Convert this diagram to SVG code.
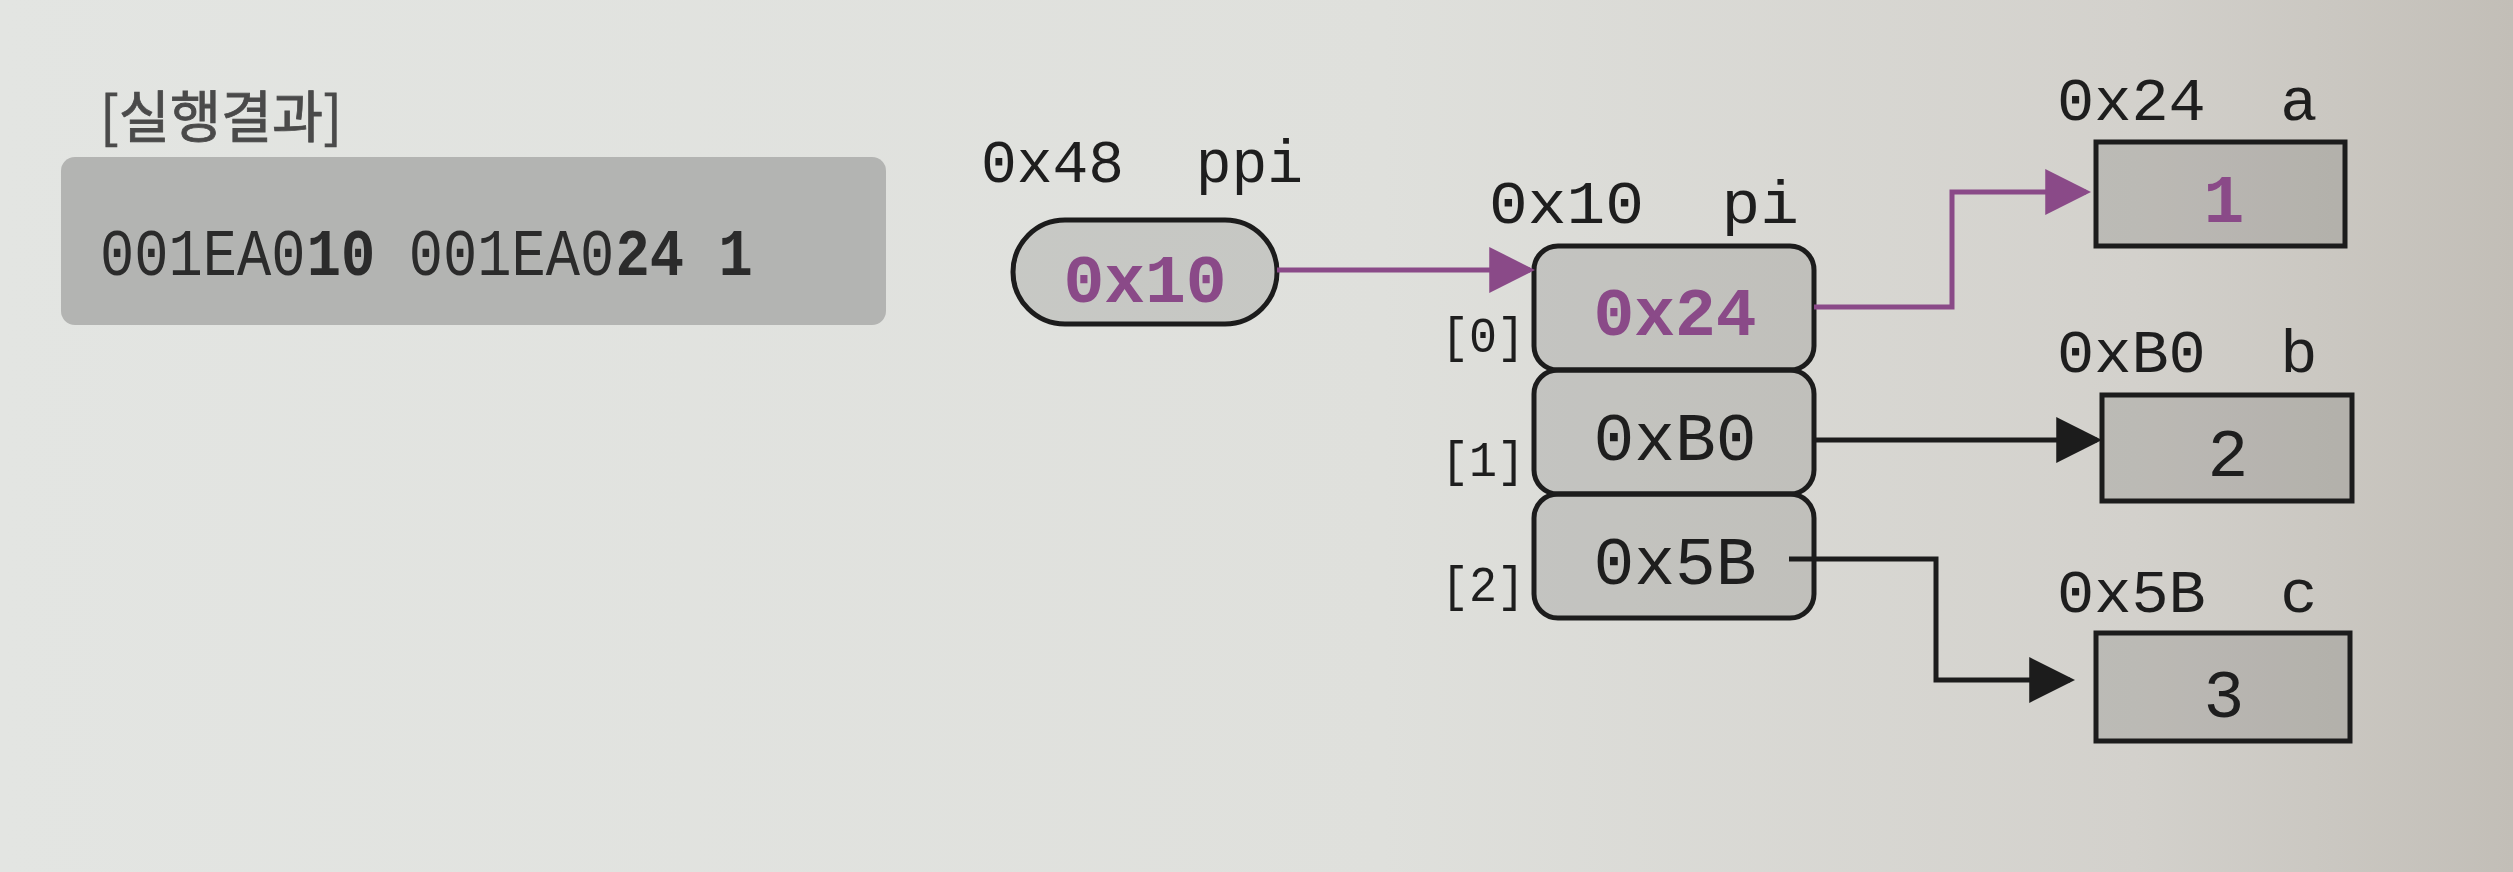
<svg xmlns="http://www.w3.org/2000/svg" width="2513" height="872" viewBox="0 0 2513 872">
<defs>
<linearGradient id="bg" x1="0" y1="0" x2="1" y2="0">
<stop offset="0" stop-color="#e3e5e2"/>
<stop offset="0.55" stop-color="#dfe0dc"/>
<stop offset="0.85" stop-color="#d3d1cc"/>
<stop offset="1" stop-color="#c2beb7"/>
</linearGradient>
<marker id="ahP" markerUnits="userSpaceOnUse" markerWidth="46" markerHeight="46" viewBox="0 0 44 44" refX="39" refY="22" orient="auto">
<path d="M0,0 L44,22 L0,44 Z" fill="#8a4a88"/>
</marker>
<marker id="ahK" markerUnits="userSpaceOnUse" markerWidth="46" markerHeight="46" viewBox="0 0 44 44" refX="39" refY="22" orient="auto">
<path d="M0,0 L44,22 L0,44 Z" fill="#1c1c1c"/>
</marker>
<style>
.mono{font-family:"Liberation Mono","DejaVu Sans Mono",monospace;fill:#1e1e1e}
.out{font-size:66px;fill:#2b2b2b}
.b{font-weight:bold}
.lbl{font-size:62px}
.val{font-size:68px;text-anchor:middle}
.idx{font-size:50px}
.hl{fill:#8a4a88;font-weight:bold}
.box{fill:#000;fill-opacity:0.11;stroke:#1c1c1c;stroke-width:5}
.conn{fill:none;stroke-width:5}
.p{stroke:#8a4a88;marker-end:url(#ahP)}
.k{stroke:#1c1c1c;marker-end:url(#ahK)}
</style>
</defs>
<rect width="2513" height="872" fill="url(#bg)"/>

<g id="result">
<text x="100" y="137" font-family="'Noto Sans CJK KR',sans-serif" font-size="56" fill="#4a4a4a" stroke="#4a4a4a" stroke-width="0.8" textLength="242" lengthAdjust="spacingAndGlyphs">[실행결과]</text>
<rect x="61" y="157" width="825" height="168" rx="14" fill="#b3b4b2"/>
<g transform="translate(100,275) scale(0.865,1)">
<text x="0" y="0" class="mono out">001EA0</text>
<text x="239" y="0" class="mono out b">10</text>
<text x="357" y="0" class="mono out">001EA0</text>
<text x="596" y="0" class="mono out b">24</text>
<text x="715" y="0" class="mono out b">1</text>
</g>
</g>

<g id="ppi">
<text x="981" y="182" class="mono lbl" textLength="322" lengthAdjust="spacingAndGlyphs" xml:space="preserve">0x48  ppi</text>
<rect x="1013" y="220" width="264" height="104" rx="52" class="box"/>
<text x="1145" y="302" class="mono val hl" font-size="66">0x10</text>
</g>

<g id="pi">
<text x="1489" y="223" class="mono lbl" textLength="310" lengthAdjust="spacingAndGlyphs" xml:space="preserve">0x10  pi</text>
<rect x="1534" y="246" width="280" height="124" rx="24" class="box"/>
<rect x="1534" y="370" width="280" height="124" rx="24" class="box"/>
<rect x="1534" y="494" width="280" height="124" rx="24" class="box"/>
<text x="1675" y="335" class="mono val hl">0x24</text>
<text x="1675" y="460" class="mono val">0xB0</text>
<text x="1675" y="584" class="mono val">0x5B</text>
<text x="1441" y="352" class="mono idx" font-size="54" textLength="84" lengthAdjust="spacingAndGlyphs">[0]</text>
<text x="1441" y="476" class="mono idx" font-size="54" textLength="84" lengthAdjust="spacingAndGlyphs">[1]</text>
<text x="1441" y="601" class="mono idx" font-size="54" textLength="84" lengthAdjust="spacingAndGlyphs">[2]</text>
</g>

<g id="a">
<text x="2057" y="120" class="mono lbl" xml:space="preserve">0x24  a</text>
<rect x="2096" y="142" width="249" height="104" class="box"/>
<text x="2224" y="222" class="mono val hl">1</text>
</g>

<g id="b">
<text x="2057" y="372" class="mono lbl" xml:space="preserve">0xB0  b</text>
<rect x="2102" y="395" width="250" height="106" class="box"/>
<text x="2228" y="476" class="mono val">2</text>
</g>

<g id="c">
<text x="2057" y="612" class="mono lbl" xml:space="preserve">0x5B  c</text>
<rect x="2096" y="633" width="254" height="108" class="box"/>
<text x="2224" y="717" class="mono val">3</text>
</g>

<g id="connectors">
<path class="conn p" d="M1277,270 H1530"/>
<path class="conn p" stroke-width="4.5" d="M1814,307 H1952 V192 H2086"/>
<path class="conn k" d="M1814,440 H2097"/>
<path class="conn k" d="M1789,559 H1936 V680 H2070"/>
</g>
</svg>
